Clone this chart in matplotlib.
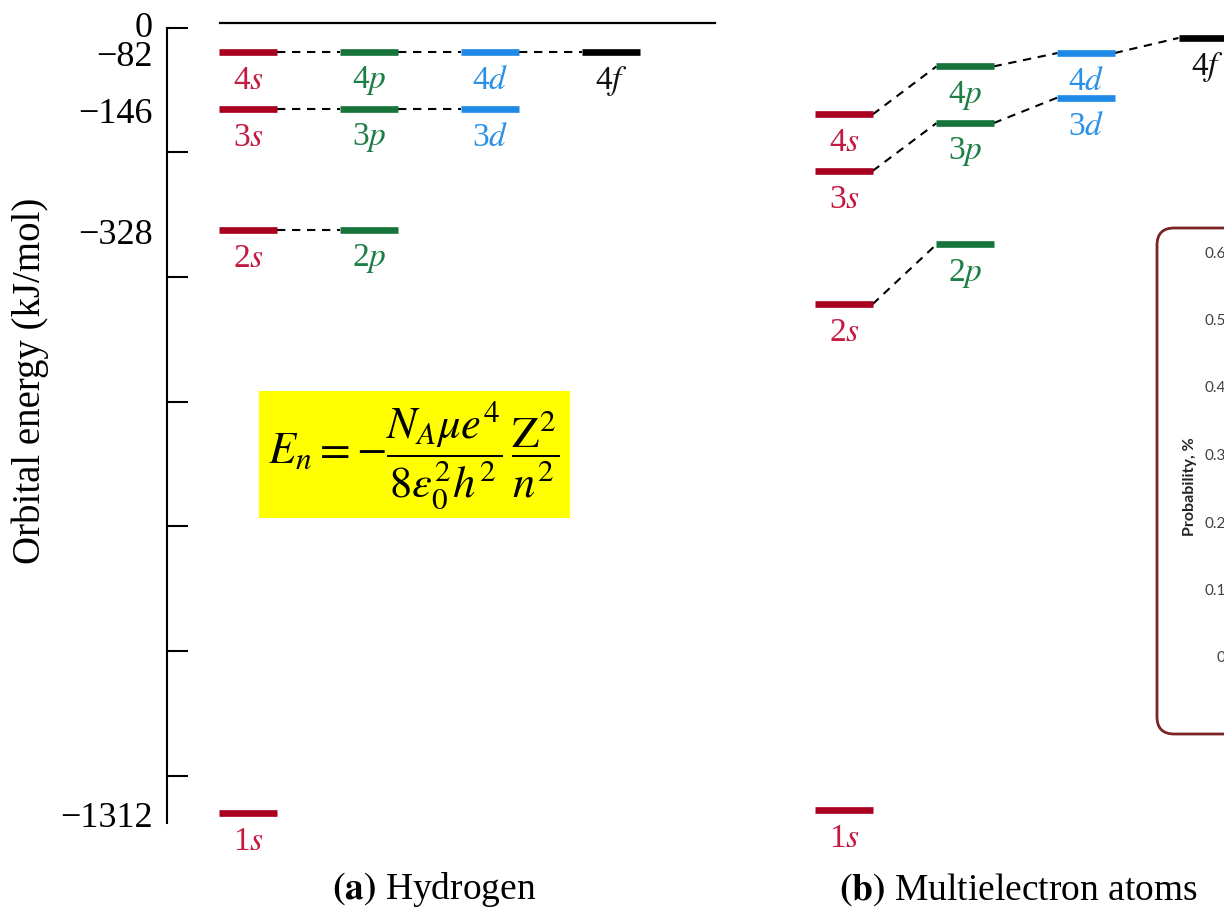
import numpy as np
import matplotlib.pyplot as plt
from matplotlib.patches import Rectangle, FancyBboxPatch

plt.rcParams['font.family'] = 'Liberation Serif'
plt.rcParams['mathtext.fontset'] = 'stix'

# orbitals: name, column (s=0, p=1, d=2, f=3)
orb_names = ['1s', '2s', '2p', '3s', '3p', '3d', '4s', '4p', '4d', '4f']
orb_cols = [0, 0, 1, 0, 1, 2, 0, 1, 2, 3]

# (a) hydrogen, kJ/mol
h_energy = [-1312, -328, -328, -146, -146, -146, -82, -82, -82, -82]
# (b) multielectron atoms, schematic values
m_energy = [-1307, -453, -352, -239, -167, -133, -154, -98, -83, -42]

# dashed links between orbitals (index pairs)
links = [(1, 2), (3, 4), (4, 5), (6, 7), (7, 8), (8, 9)]

energy_ticks = [0, -82, -146, -328, -1312]
energy_labels = ['0', '\u221282', '\u2212146', '\u2212328', '\u22121312']
tick_marks = [-14, -211, -407, -618, -828, -1039, -1250]

prob_ticks = [0, 0.1, 0.2, 0.3, 0.4, 0.5, 0.6]
prob_labels = ['0', '0.1', '0.2', '0.3', '0.4', '0.5', '0.6']

bar_colors = {'s': '#a8001f', 'p': '#16733a', 'd': '#1e8ae6', 'f': '#000000'}
text_colors = {'s': '#c41a40', 'p': '#1d7f45', 'd': '#2a90e8', 'f': '#111111'}

# the energy axis is schematic (not linear), piecewise scale
scale_e = [-2000, -1312, -328, -146, -82, 0, 200]
scale_px = [1222, 814, 231, 110, 53, 24, -47]


def fwd(e):
    return -np.interp(e, scale_e, scale_px)


def inv(v):
    return np.interp(-np.asarray(v), scale_px[::-1], scale_e[::-1])


fig = plt.figure(figsize=(12.24, 9.12), dpi=100)
ax = fig.add_axes([167 / 1224, 0, 1 - 167 / 1224, 1])
ax.patch.set_alpha(0)
ax.set_yscale('function', functions=(fwd, inv))
ax.set_ylim(-1477, 68)
ax.set_xlim(-0.669, 8.066)

half = 0.236
offset_b = 4.926

for energies, off in [(h_energy, 0), (m_energy, offset_b)]:
    for name, c, e in zip(orb_names, orb_cols, energies):
        l = name[1]
        x = c + off
        ax.plot([x - half, x + half], [e, e], color=bar_colors[l], lw=4.8,
                solid_capstyle='butt', zorder=3)
        ax.annotate(name[0] + '$' + l + '$', (x, e), xytext=(0, -20),
                    textcoords='offset points', ha='center', va='center',
                    fontsize=24, color=text_colors[l])
    for i, j in links:
        ax.plot([orb_cols[i] + off + half, orb_cols[j] + off - half],
                [energies[i], energies[j]], color='k', lw=1.5,
                ls=(0, (4, 3.2)), zorder=2)

# zero line of hydrogen panel
ax.plot([-0.23, 3.86], [0, 0], color='k', lw=1.6)

for s in ['top', 'right', 'bottom']:
    ax.spines[s].set_visible(False)
ax.spines['left'].set_linewidth(1.5)
ax.spines['left'].set_bounds(-1329, -14)
ax.set_xticks([])
ax.set_yticks(energy_ticks, energy_labels)
ax.set_yticks(tick_marks, minor=True)
ax.tick_params(axis='y', which='major', length=0, pad=10, labelsize=26)
ax.tick_params(axis='y', which='minor', direction='in', length=15, width=1.5)

fig.text(30 / 1224, 1 - 381 / 912, 'Orbital energy (kJ/mol)', rotation=90,
         ha='center', va='center', fontsize=28)

fig.text(434 / 1224, 1 - 890 / 912, r'$\mathbf{(a)}$ Hydrogen',
         ha='center', va='center', fontsize=27)
fig.text(1018 / 1224, 1 - 890 / 912, r'$\mathbf{(b)}$ Multielectron atoms',
         ha='center', va='center', fontsize=27)

# formula box
fig.add_artist(Rectangle((259 / 1224, 1 - 519 / 912), 311 / 1224, 127 / 912,
                         transform=fig.transFigure, facecolor='#ffff00',
                         edgecolor='none', zorder=1))
fig.text(414 / 1224, 1 - 456 / 912,
         r'$E_n=-\dfrac{N_A\mu e^4}{8\varepsilon_0^2h^2}\,\dfrac{\mathrm{Z}^2}{n^2}$',
         ha='center', va='center', fontsize=32, zorder=2)

# clipped inset on the right
fig.add_artist(FancyBboxPatch((1157 / 1224, 1 - 735 / 912), 300 / 1224, 506 / 912,
                              boxstyle='round,pad=0,rounding_size=0.014',
                              mutation_aspect=1224 / 912,
                              transform=fig.transFigure, facecolor='none',
                              edgecolor='#7b2525', lw=2))
iax = fig.add_axes([1230 / 1224, 1 - 657 / 912, 0.2, 405 / 912])
iax.patch.set_alpha(0)
iax.set_ylim(0, 0.6)
iax.set_yticks(prob_ticks, prob_labels)
iax.set_xticks([])
iax.tick_params(axis='y', length=0, pad=3, labelsize=11, labelcolor='#404040')
for lbl in iax.get_yticklabels():
    lbl.set_fontfamily('Lato')
for s in iax.spines.values():
    s.set_visible(False)
fig.text(1190 / 1224, 1 - 487 / 912, 'Probability, %', rotation=90,
         ha='center', va='center', fontsize=11.5, fontweight='bold',
         family='Lato', color='#222222')

fig.savefig('out.png', dpi=100)
